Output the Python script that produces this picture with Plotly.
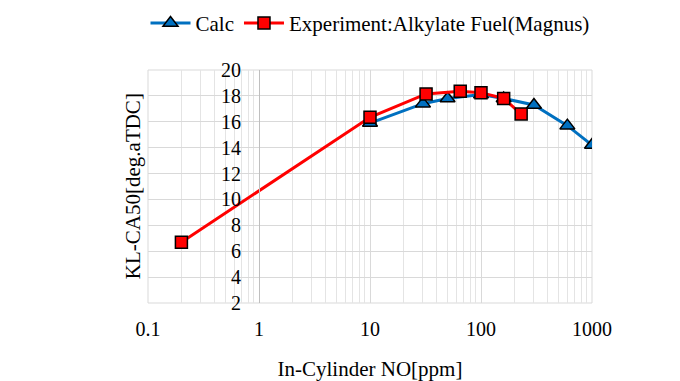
import plotly.graph_objects as go

# Data
calc_x = [10, 30, 50, 100, 160, 300, 600, 1000]
calc_y = [15.9, 17.4, 17.8, 18.1, 17.8, 17.3, 15.7, 14.2]
exp_x = [0.2, 10, 32, 65, 100, 160, 230]
exp_y = [6.7, 16.35, 18.15, 18.35, 18.25, 17.8, 16.6]
y_ticks = [2, 4, 6, 8, 10, 12, 14, 16, 18, 20]
x_ticks = [0.1, 1, 10, 100, 1000]
x_ticktext = ["0.1", "1", "10", "100", "1000"]

FONT = "Liberation Serif, Times New Roman, serif"
fig = go.Figure()
fig.add_trace(go.Scatter(
    x=calc_x, y=calc_y, name="Calc", mode="lines+markers",
    line=dict(color="#0070C0", width=3),
    marker=dict(symbol="triangle-up", size=13, color="#0070C0",
                line=dict(color="black", width=1.5)),
))
fig.add_trace(go.Scatter(
    x=exp_x, y=exp_y, name="Experiment:Alkylate Fuel(Magnus)", mode="lines+markers",
    line=dict(color="#FF0000", width=3),
    marker=dict(symbol="square", size=12, color="#FF0000",
                line=dict(color="black", width=1.5)),
))

fig.update_layout(
    width=680, height=381,
    margin=dict(l=148, r=88, t=70, b=78),
    paper_bgcolor="white", plot_bgcolor="white",
    font=dict(family=FONT, size=20, color="black"),
    showlegend=True,
    legend=dict(orientation="h", x=0.5, xanchor="center", y=0.885, yanchor="bottom",
                yref="container", font=dict(size=21, family=FONT),
                itemwidth=40, tracegroupgap=0),
    xaxis=dict(
        type="log", range=[-1, 3],
        tickvals=x_ticks, ticktext=x_ticktext,
        showgrid=True, gridcolor="#d9d9d9", gridwidth=1,
        minor=dict(showgrid=True, gridcolor="#e4e4e4", dtick="D1", ticks=""),
        zeroline=False, showline=False, ticks="",
        ticklabelstandoff=12, automargin=False,
        title=dict(text="In-Cylinder NO[ppm]", font=dict(size=21, family=FONT), standoff=22),
        tickfont=dict(size=20, family=FONT),
    ),
    yaxis=dict(
        range=[2, 20], tickvals=y_ticks,
        showgrid=True, gridcolor="#d9d9d9", gridwidth=1,
        zeroline=False, ticks="",
        anchor="free", position=0.25,
        showline=True, linecolor="#bfbfbf", linewidth=1,
        ticklabelstandoff=14, automargin=False,
        tickfont=dict(size=20, family=FONT),
    ),
    annotations=[dict(
        text="KL-CA50[deg.aTDC]", textangle=-90, xref="paper", yref="paper",
        x=-0.003, y=0.5, xanchor="right", yanchor="middle", showarrow=False,
        font=dict(size=21, family=FONT),
    )],
    shapes=[dict(type="rect", xref="paper", yref="paper", x0=0, x1=1, y0=0, y1=1,
                 line=dict(color="#d9d9d9", width=1), layer="below")],
)
fig.write_html("out.html", config={"displayModeBar": False},
               post_script="document.body.style.margin='0';")
